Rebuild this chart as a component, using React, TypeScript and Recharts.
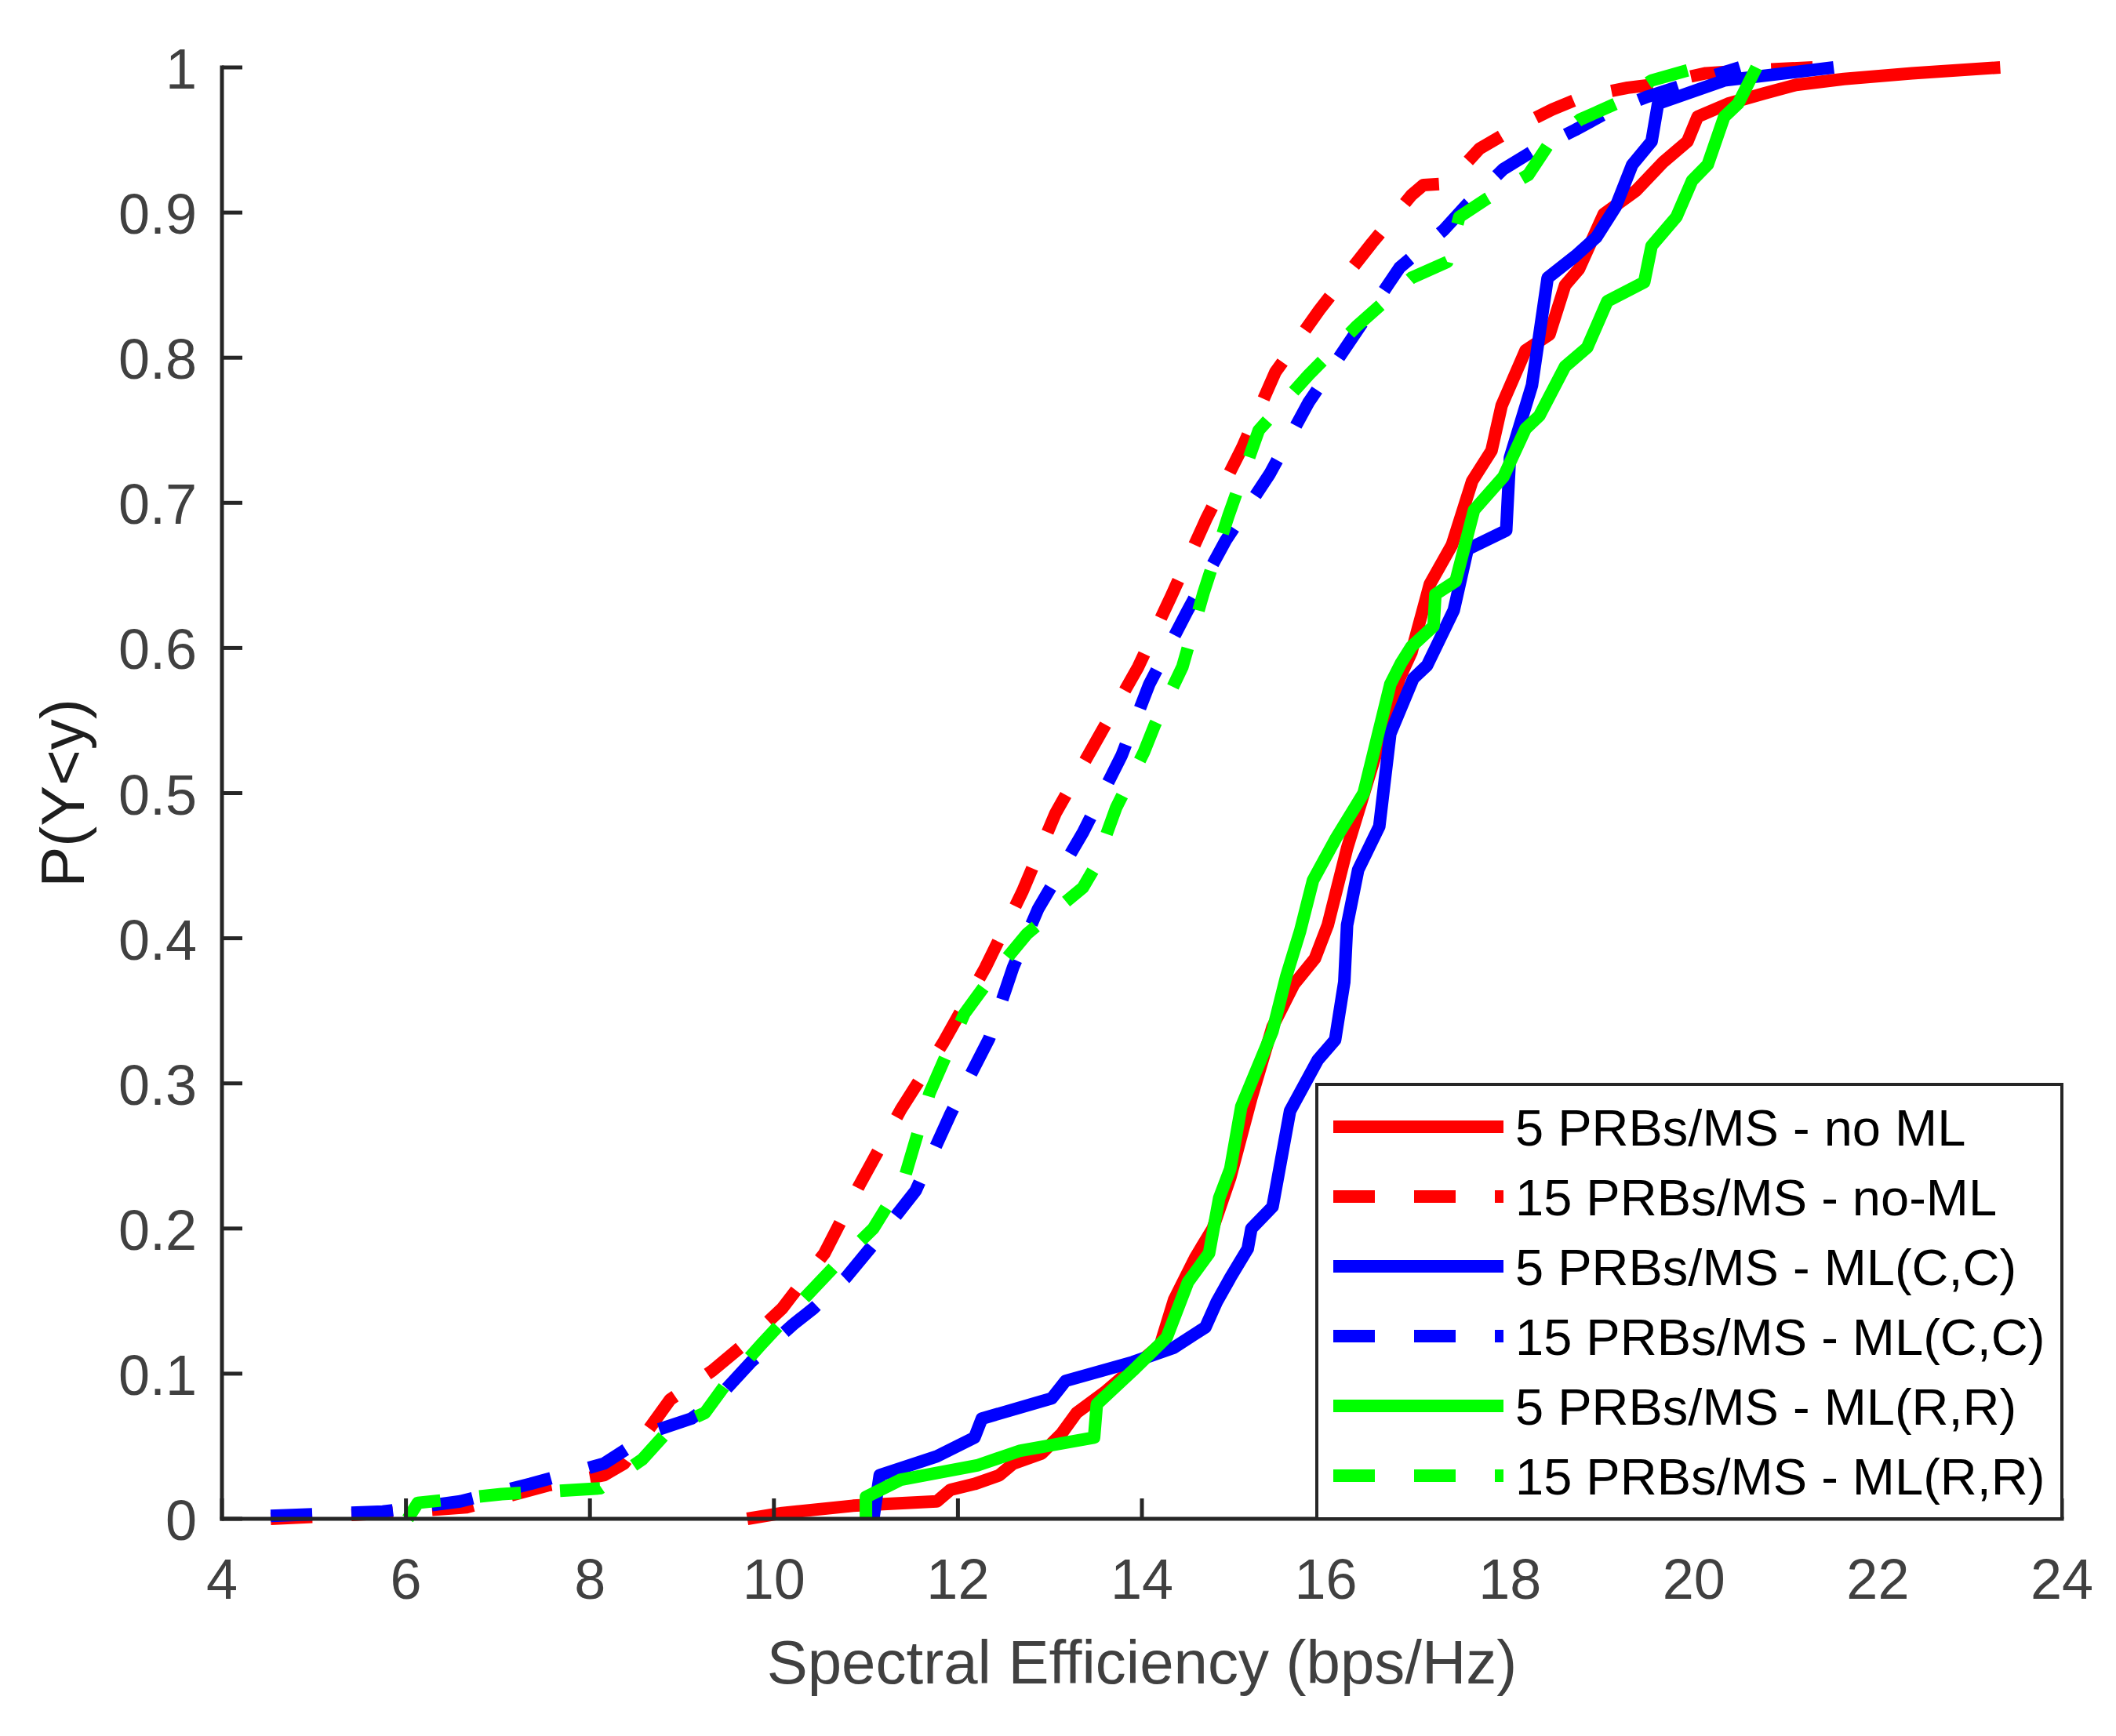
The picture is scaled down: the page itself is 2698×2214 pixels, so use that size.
import React from "react";
import { LineChart, Line, XAxis, YAxis, Legend, Label } from "recharts";

const FONT = '"Liberation Sans", Arial, Helvetica, sans-serif';
const AXIS_COLOR = "#262626";
const TICK_COLOR = "#404040";

const X_TICKS = [4, 6, 8, 10, 12, 14, 16, 18, 20, 22, 24];
const Y_TICKS = [0, 0.1, 0.2, 0.3, 0.4, 0.5, 0.6, 0.7, 0.8, 0.9, 1];

// [spectral efficiency, P(Y<y)]
const prb5NoML: [number, number][] = [
  [9.71, 0], [10.09, 0.004], [10.86, 0.009], [11.77, 0.012], [11.92, 0.02], [12.18, 0.024],
  [12.45, 0.03], [12.6, 0.038], [12.91, 0.045], [13.13, 0.059], [13.29, 0.073], [13.59, 0.087],
  [14.2, 0.12], [14.35, 0.151], [14.58, 0.18], [14.77, 0.2], [14.96, 0.235], [15.19, 0.29],
  [15.42, 0.339], [15.65, 0.368], [15.88, 0.386], [16.02, 0.409], [16.23, 0.462], [16.52, 0.522],
  [16.8, 0.579], [16.93, 0.597], [17.13, 0.644], [17.37, 0.671], [17.59, 0.715], [17.8, 0.736],
  [17.91, 0.767], [18.17, 0.805], [18.43, 0.816], [18.6, 0.85], [18.75, 0.861], [19.02, 0.899],
  [19.37, 0.915], [19.67, 0.935], [19.93, 0.949], [20.04, 0.966], [20.37, 0.975], [20.76, 0.982],
  [21.11, 0.988], [21.63, 0.992], [22.37, 0.996], [23.33, 1.0],
];

const prb15NoML: [number, number][] = [
  [4.53, 0], [5.82, 0.004], [6.66, 0.008], [7.54, 0.023], [8.15, 0.03], [8.37, 0.038],
  [8.87, 0.082], [9.33, 0.102], [9.67, 0.12], [10.09, 0.145], [10.55, 0.183], [10.93, 0.23],
  [11.38, 0.282], [11.84, 0.328], [12.3, 0.38], [12.7, 0.432], [13.06, 0.486], [13.54, 0.54],
  [13.96, 0.587], [14.32, 0.636], [14.7, 0.689], [15.09, 0.738], [15.45, 0.79], [15.93, 0.833],
  [16.5, 0.879], [16.93, 0.912], [17.06, 0.919], [17.32, 0.92], [17.67, 0.944], [18.02, 0.957],
  [18.46, 0.971], [18.8, 0.98], [19.28, 0.986], [19.54, 0.988], [20.13, 0.996], [20.6, 0.998],
  [21.3, 1.0],
];

const prb5MLCC: [number, number][] = [
  [11.08, 0], [11.15, 0.03], [11.77, 0.043], [12.18, 0.056], [12.26, 0.069], [13.02, 0.083],
  [13.17, 0.095], [13.9, 0.108], [14.35, 0.118], [14.69, 0.132], [14.81, 0.149], [14.96, 0.166],
  [15.15, 0.186], [15.19, 0.2], [15.42, 0.215], [15.61, 0.281], [15.91, 0.316], [16.1, 0.33],
  [16.2, 0.37], [16.23, 0.409], [16.35, 0.447], [16.58, 0.477], [16.7, 0.541], [16.95, 0.579],
  [17.1, 0.588], [17.39, 0.626], [17.54, 0.668], [17.96, 0.681], [18.0, 0.731], [18.24, 0.781],
  [18.41, 0.855], [18.71, 0.87], [18.94, 0.883], [19.15, 0.904], [19.33, 0.933], [19.54, 0.949],
  [19.61, 0.975], [20.33, 0.991], [21.52, 1.0],
];

const prb15MLCC: [number, number][] = [
  [4.53, 0.002], [5.75, 0.005], [6.59, 0.012], [7.35, 0.024], [8.15, 0.038], [8.72, 0.061],
  [9.1, 0.069], [9.33, 0.079], [9.75, 0.108], [10.21, 0.134], [10.43, 0.145], [10.78, 0.166],
  [11.08, 0.189], [11.54, 0.226], [11.92, 0.279], [12.34, 0.331], [12.6, 0.38], [12.87, 0.42],
  [13.36, 0.473], [13.78, 0.526], [14.08, 0.575], [14.49, 0.625], [14.91, 0.674], [15.39, 0.72],
  [15.81, 0.769], [16.29, 0.814], [16.8, 0.862], [17.28, 0.888], [17.54, 0.906], [17.93, 0.93],
  [18.24, 0.942], [18.71, 0.957], [19.06, 0.969], [19.5, 0.98], [19.89, 0.988], [20.5, 1.0],
];

const prb5MLRR: [number, number][] = [
  [11.0, 0], [11.0, 0.015], [11.38, 0.027], [12.22, 0.037], [12.68, 0.047], [13.48, 0.056],
  [13.51, 0.079], [13.9, 0.102], [14.27, 0.125], [14.5, 0.163], [14.73, 0.183], [14.84, 0.221],
  [14.96, 0.241], [15.08, 0.284], [15.42, 0.336], [15.57, 0.374], [15.72, 0.405], [15.86, 0.44],
  [16.11, 0.469], [16.41, 0.5], [16.7, 0.575], [16.82, 0.59], [16.93, 0.601], [17.17, 0.615],
  [17.19, 0.637], [17.41, 0.646], [17.61, 0.695], [17.93, 0.718], [18.17, 0.751], [18.32, 0.76],
  [18.6, 0.794], [18.84, 0.807], [19.06, 0.839], [19.46, 0.852], [19.54, 0.877], [19.81, 0.897],
  [19.98, 0.922], [20.15, 0.933], [20.33, 0.966], [20.48, 0.975], [20.68, 1.0],
];

const prb15MLRR: [number, number][] = [
  [6.02, 0], [6.13, 0.011], [7.04, 0.017], [8.11, 0.021], [8.57, 0.041], [8.87, 0.062],
  [9.25, 0.073], [9.48, 0.093], [9.86, 0.12], [10.36, 0.154], [10.66, 0.174], [11.08, 0.2],
  [11.42, 0.235], [11.69, 0.293], [12.07, 0.348], [12.37, 0.374], [12.75, 0.403], [13.36, 0.435],
  [13.48, 0.448], [13.72, 0.49], [14.02, 0.528], [14.14, 0.547], [14.44, 0.587], [14.67, 0.638],
  [14.94, 0.691], [15.27, 0.75], [15.81, 0.788], [16.34, 0.822], [16.93, 0.855], [17.32, 0.866],
  [17.45, 0.897], [17.76, 0.91], [18.2, 0.926], [18.41, 0.946], [18.76, 0.964], [19.15, 0.975],
  [19.54, 0.991], [19.93, 0.998], [20.05, 1.0],
];

const SERIES = [
  { name: "5 PRBs/MS - no ML", color: "#ff0000", dash: undefined, points: prb5NoML },
  { name: "15 PRBs/MS - no-ML", color: "#ff0000", dash: "53 50", points: prb15NoML },
  { name: "5 PRBs/MS - ML(C,C)", color: "#0000ff", dash: undefined, points: prb5MLCC },
  { name: "15 PRBs/MS - ML(C,C)", color: "#0000ff", dash: "53 50", points: prb15MLCC },
  { name: "5 PRBs/MS - ML(R,R)", color: "#00ff00", dash: undefined, points: prb5MLRR },
  { name: "15 PRBs/MS - ML(R,R)", color: "#00ff00", dash: "53 50", points: prb15MLRR },
];

const LINE_W = 16;
const axisLine = { stroke: AXIS_COLOR, strokeWidth: 5, strokeLinecap: "square" as const };

function BottomTick({ x, y, payload }: any) {
  return (
    <g>
      <line x1={x} x2={x} y1={y} y2={y - 26} stroke={AXIS_COLOR} strokeWidth={5} />
      <text x={x} y={y + 102} textAnchor="middle" fontSize={72} fontFamily={FONT} fill={TICK_COLOR}>
        {payload.value}
      </text>
    </g>
  );
}

function TopTick({ x, y }: any) {
  return <line x1={x} x2={x} y1={y} y2={y + 26} stroke={AXIS_COLOR} strokeWidth={5} />;
}

function LeftTick({ x, y, payload }: any) {
  return (
    <g>
      <line x1={x} x2={x + 26} y1={y} y2={y} stroke={AXIS_COLOR} strokeWidth={5} />
      <text x={x - 32} y={y + 27} textAnchor="end" fontSize={72} fontFamily={FONT} fill={TICK_COLOR}>
        {String(payload.value)}
      </text>
    </g>
  );
}

function RightTick({ x, y }: any) {
  return <line x1={x} x2={x - 26} y1={y} y2={y} stroke={AXIS_COLOR} strokeWidth={5} />;
}

function XTitle({ viewBox }: any) {
  return (
    <text x={viewBox.x + viewBox.width / 2} y={viewBox.y + 210} textAnchor="middle"
      fontSize={78} fontFamily={FONT} fill={TICK_COLOR}>
      Spectral Efficiency (bps/Hz)
    </text>
  );
}

function YTitle({ viewBox }: any) {
  const cx = viewBox.x + 107;
  const cy = viewBox.y + viewBox.height / 2;
  return (
    <text x={cx} y={cy} transform={`rotate(-90 ${cx} ${cy})`} textAnchor="middle"
      fontSize={78} fontFamily={FONT} fill="#1e1e1e">
      P(Y&lt;y)
    </text>
  );
}

// legend rows follow the plotting order of SERIES, not recharts' sorted payload
function LegendBox() {
  return (
    <svg width={954} height={558} style={{ display: "block" }}>
      <rect x={2} y={2} width={950} height={554} fill="#ffffff" stroke={AXIS_COLOR} strokeWidth={4} />
      {SERIES.map((s, i) => {
        const cy = 56 + i * 89;
        return (
          <g key={s.name}>
            <line x1={23} x2={240} y1={cy} y2={cy} stroke={s.color} strokeWidth={LINE_W}
              strokeDasharray={s.dash} />
            <text x={255} y={cy + 24} fontSize={65} fontFamily={FONT} fill="#000000">
              {s.name}
            </text>
          </g>
        );
      })}
    </svg>
  );
}

export default function App() {
  return (
    <div style={{ width: 2698, height: 2214, background: "#ffffff" }}>
      <style>{`body{margin:0;background:#fff}`}</style>
      <LineChart width={2698} height={2214} margin={{ top: 86, right: 69, bottom: 0, left: 0 }}>
        <XAxis dataKey="x" type="number" domain={[4, 24]} ticks={X_TICKS} interval={0}
          height={277} tickSize={0} tickMargin={0} tickLine={false} axisLine={axisLine}
          tick={<BottomTick />}>
          <Label content={<XTitle />} />
        </XAxis>
        <XAxis xAxisId="top" orientation="top" dataKey="x" type="number" domain={[4, 24]}
          ticks={X_TICKS} interval={0} height={0} tickSize={0} tickMargin={0} tickLine={false}
          axisLine={axisLine} tick={<TopTick />} />
        <YAxis type="number" domain={[0, 1]} ticks={Y_TICKS} interval={0} width={283}
          tickSize={0} tickMargin={0} tickLine={false} axisLine={axisLine} tick={<LeftTick />}>
          <Label content={<YTitle />} />
        </YAxis>
        <YAxis yAxisId="right" orientation="right" type="number" domain={[0, 1]} ticks={Y_TICKS}
          interval={0} width={0} tickSize={0} tickMargin={0} tickLine={false} axisLine={axisLine}
          tick={<RightTick />} />
        {SERIES.map((s) => (
          <Line key={s.name} name={s.name} data={s.points.map(([x, y]) => ({ x, y }))}
            dataKey="y" type="linear" stroke={s.color} strokeWidth={LINE_W}
            strokeDasharray={s.dash} strokeLinejoin="round" dot={false} activeDot={false}
            isAnimationActive={false} />
        ))}
        <Legend layout="vertical" align="center" verticalAlign="middle" content={<LegendBox />}
          wrapperStyle={{ left: 1677, top: 1381, width: 954, height: 558 }} />
      </LineChart>
    </div>
  );
}
